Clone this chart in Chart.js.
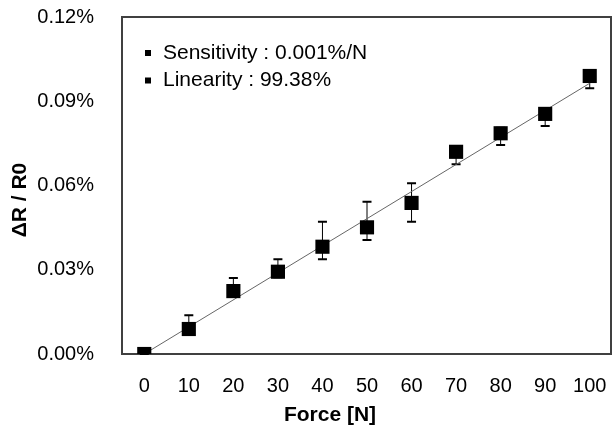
<!DOCTYPE html>
<html>
<head>
<meta charset="utf-8">
<script src="https://cdn.jsdelivr.net/npm/chart.js@4"></script>
<style>
  html, body { margin: 0; padding: 0; background: #fff; }
  #wrap { width: 612px; height: 430px; position: relative; }
</style>
</head>
<body>
<div id="wrap"><canvas id="grafico"></canvas></div>
<script>
// dados
const forca = [0, 10, 20, 30, 40, 50, 60, 70, 80, 90, 100];
const deltaR = [0, 0.0089, 0.0224, 0.0293, 0.0382, 0.0451, 0.0538, 0.0720, 0.0786, 0.0855, 0.0990];
const erroCima = [0, 0.0049, 0.0047, 0.0044, 0.0089, 0.0091, 0.0070, 0.002, 0.002, 0.002, 0.002];
const erroBaixo = [0, 0.002, 0.002, 0.002, 0.0045, 0.0045, 0.0067, 0.0044, 0.0042, 0.0043, 0.0044];
const tendenciaX = [0, 100];
const tendenciaY = [0, 0.0964];
const ticksX = [0, 10, 20, 30, 40, 50, 60, 70, 80, 90, 100];
const ticksY = [0, 0.03, 0.06, 0.09, 0.12];
const legenda = ['Sensitivity : 0.001%/N', 'Linearity : 99.38%'];

const fonte = '"Liberation Sans", Arial, sans-serif';

// moldura, barras de erro, títulos e legenda
const extras = {
    id: 'extras',
    beforeDatasetsDraw(chart) {
        const { ctx, chartArea: a, scales: { x, y } } = chart;
        ctx.save();
        ctx.strokeStyle = '#404040';
        ctx.lineWidth = 2;
        ctx.strokeRect(a.left, a.top, a.right - a.left - 1, a.bottom - a.top);

        ctx.strokeStyle = '#000';
        forca.forEach((f, i) => {
            const px = x.getPixelForValue(f);
            const top = y.getPixelForValue(deltaR[i] + erroCima[i]);
            const bot = y.getPixelForValue(deltaR[i] - erroBaixo[i]);
            ctx.lineWidth = 1;
            ctx.beginPath();
            ctx.moveTo(px, top); ctx.lineTo(px, bot);
            ctx.stroke();
            ctx.lineWidth = 2;
            ctx.beginPath();
            ctx.moveTo(px - 4.5, top); ctx.lineTo(px + 4.5, top);
            ctx.moveTo(px - 4.5, bot); ctx.lineTo(px + 4.5, bot);
            ctx.stroke();
        });
        ctx.restore();
    },
    afterDraw(chart) {
        const { ctx } = chart;
        ctx.save();
        ctx.fillStyle = '#000';
        ctx.font = 'bold 21px ' + fonte;
        ctx.textAlign = 'center';
        ctx.textBaseline = 'middle';
        ctx.fillText('Force [N]', 330, 415);
        ctx.translate(20, 200);
        ctx.rotate(-Math.PI / 2);
        ctx.fillText('ΔR / R0', 0, 0);
        ctx.restore();

        ctx.save();
        ctx.fillStyle = '#000';
        ctx.font = '21px ' + fonte;
        ctx.textAlign = 'left';
        ctx.textBaseline = 'middle';
        legenda.forEach((txt, i) => {
            const ly = 53 + i * 27.5;
            ctx.fillRect(145, ly - 3, 6, 6);
            ctx.fillText(txt, 163, ly);
        });
        ctx.restore();
    }
};

new Chart('grafico', {
    type: 'scatter',
    data: {
        datasets: [
            {
                data: forca.map((f, i) => ({ x: f, y: deltaR[i] })),
                pointStyle: 'rect',
                pointRadius: 10,
                pointHoverRadius: 10,
                backgroundColor: '#000',
                borderColor: '#000',
                borderWidth: 0,
                order: 1
            },
            {
                type: 'line',
                data: tendenciaX.map((f, i) => ({ x: f, y: tendenciaY[i] })),
                borderColor: '#666',
                borderWidth: 1,
                pointRadius: 0,
                fill: false,
                order: 2
            }
        ]
    },
    options: {
        responsive: true,
        maintainAspectRatio: false,
        animation: false,
        layout: { autoPadding: false, padding: { top: 17, right: 0, left: 0, bottom: 0 } },
        plugins: { legend: { display: false }, tooltip: { enabled: false } },
        scales: {
            x: {
                type: 'linear',
                min: -5,
                max: 105,
                grid: { display: false },
                border: { display: false },
                afterBuildTicks: (s) => { s.ticks = ticksX.map(v => ({ value: v })); },
                afterFit: (s) => { s.height = 76; s.paddingLeft = 0; s.paddingRight = 0; },
                ticks: {
                    color: '#000',
                    padding: 12,
                    maxRotation: 0,
                    autoSkip: false,
                    font: { family: fonte, size: 20 }
                }
            },
            y: {
                min: 0,
                max: 0.12,
                grid: { display: false },
                border: { display: false },
                afterBuildTicks: (s) => { s.ticks = ticksY.map(v => ({ value: v })); },
                afterFit: (s) => { s.width = 122; s.paddingTop = 0; s.paddingBottom = 0; },
                ticks: {
                    color: '#000',
                    padding: 20,
                    font: { family: fonte, size: 20 },
                    callback: (v) => v.toFixed(2) + '%'
                }
            }
        }
    },
    plugins: [extras]
});
</script>
</body>
</html>
